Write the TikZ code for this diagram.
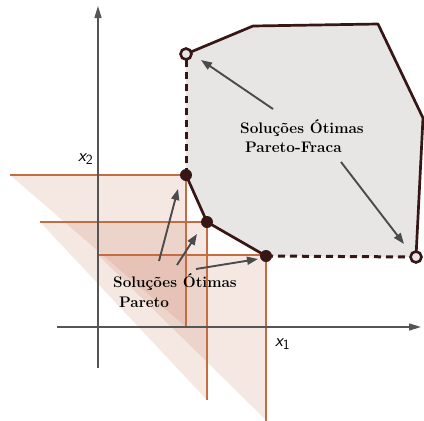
\documentclass[tikz,border=0pt]{standalone}
\usetikzlibrary{arrows.meta}
\definecolor{ora}{RGB}{196,108,68}
\definecolor{orafill}{RGB}{190,100,65}
\definecolor{polyfill}{RGB}{232,229,229}
\definecolor{edgecol}{RGB}{55,22,22}
\definecolor{axiscol}{RGB}{85,85,85}
\definecolor{arrcol}{RGB}{75,75,75}
\begin{document}
\begin{tikzpicture}[x=1pt,y=-1pt,
  cone/.style={fill=orafill,fill opacity=0.15},
  oline/.style={draw=ora,line width=1.7pt},
  axisline/.style={draw=axiscol,line width=1.5pt,-{Triangle[length=12pt,width=7pt]}},
  border/.style={draw=edgecol,line width=2.7pt,line join=round},
  dashedge/.style={draw=edgecol,line width=3pt,dash pattern=on 7pt off 5pt},
  solpt/.style={circle,fill=edgecol,inner sep=0pt,minimum size=12pt},
  weakpt/.style={circle,draw=edgecol,line width=2.6pt,fill=polyfill,inner sep=0pt,minimum size=11pt},
  pointer/.style={draw=arrcol,line width=1.9pt,-{Triangle[length=11pt,width=8pt]}},
  lbl/.style={font=\fontsize{15.3}{17}\selectfont\bfseries,anchor=base west,inner sep=0pt},
  axlbl/.style={font=\fontsize{18}{20}\selectfont\sffamily,anchor=base west,inner sep=0pt},
]
\useasboundingbox (0,0) rectangle (424,421);
% key points
\coordinate (A) at (186,54);
\coordinate (V1) at (253,26);
\coordinate (V2) at (378,24);
\coordinate (V3) at (423,118);
\coordinate (B) at (416,257);
\coordinate (P3) at (266,256);
\coordinate (P2) at (207,222);
\coordinate (P1) at (186,175);
% feasible region
\fill[polyfill] (A) -- (V1) -- (V2) -- (V3) -- (B) -- (P3) -- (P2) -- (P1) -- cycle;
% dominance cones
\fill[cone] (10,175) -- (186,175) -- (186,327) -- cycle;
\fill[cone] (40,222) -- (207,222) -- (207,400) -- cycle;
\fill[cone] (98,255) -- (266,255) -- (266,420) -- cycle;
\coordinate (h1) at (10,175);
\coordinate (h2) at (40,222);
\coordinate (h3) at (98,255);
\coordinate (d1) at (186,327);
\coordinate (d2) at (207,400);
\coordinate (d3) at (266,421);
\draw[oline] (h1) -- (P1) -- (d1);
\draw[oline] (h2) -- (P2) -- (d2);
\draw[oline] (h3) -- (266,255) -- (d3);
% axes
\coordinate (ya) at (98,368);
\coordinate (yb) at (98,6);
\coordinate (xa) at (57,327);
\coordinate (xb) at (421,327);
\draw[axisline] (ya) -- (yb);
\draw[axisline] (xa) -- (xb);
\node[axlbl] (lx2) at (78,161) {\itshape x\raisebox{-0.4ex}{\fontsize{14}{15}\selectfont\upshape 2}};
\node[axlbl] (lx1) at (275,346) {\itshape x\raisebox{-0.4ex}{\fontsize{14}{15}\selectfont\upshape 1}};
% boundary
\draw[border] (A) -- (V1) -- (V2) -- (V3) -- (B);
\draw[border] (P3) -- (P2) -- (P1);
\draw[dashedge] (P1) -- (A);
\draw[dashedge] (P3) -- (B);
\node[solpt] (n1) at (P1) {};
\node[solpt] (n2) at (P2) {};
\node[solpt] (n3) at (P3) {};
\node[weakpt] (wa) at (A) {};
\node[weakpt] (wb) at (B) {};
% labels
\node[lbl] (t1) at (113,287) {Soluções Ótimas};
\node[lbl] (t2) at (119,307) {Pareto};
\node[lbl] (t3) at (240,133) {Soluções Ótimas};
\node[lbl] (t4) at (245,152) {Pareto-Fraca};
% pointers
\coordinate (s1) at (159,261); \coordinate (e1) at (178,189);
\coordinate (s2) at (177,265); \coordinate (e2) at (197,234);
\coordinate (s3) at (196,269); \coordinate (e3) at (258,259);
\coordinate (s4) at (273,109); \coordinate (e4) at (201,60);
\coordinate (s5) at (341,162); \coordinate (e5) at (404,244);
\draw[pointer] (s1) -- (e1);
\draw[pointer] (s2) -- (e2);
\draw[pointer] (s3) -- (e3);
\draw[pointer] (s4) -- (e4);
\draw[pointer] (s5) -- (e5);
\end{tikzpicture}
\end{document}
